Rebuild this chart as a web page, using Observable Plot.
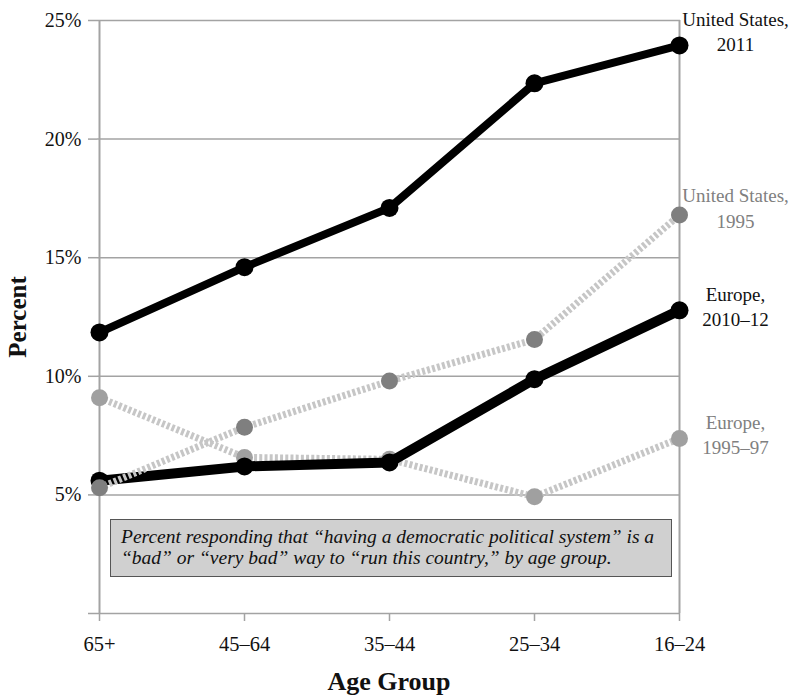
<!DOCTYPE html>
<html><head><meta charset="utf-8">
<script src="https://cdn.jsdelivr.net/npm/d3@7"></script>
<script src="https://cdn.jsdelivr.net/npm/@observablehq/plot@0.6"></script>
<style>
body{margin:0;background:#fff;}
#wrap{position:relative;width:808px;height:695px;}
#note{position:absolute;left:110px;top:519px;width:562px;height:58px;box-sizing:border-box;background:#d0d0d0;border:1.5px solid #555;font-family:"Liberation Serif",serif;font-style:italic;font-size:19.5px;line-height:21px;padding:6px 10px;color:#111;white-space:nowrap;}
</style></head><body><div id="wrap"></div>
<script>
const ageGroups = ["65+", "45–64", "35–44", "25–34", "16–24"];
const us2011 = [11.85, 14.6, 17.1, 22.35, 23.95];
const us1995 = [5.3, 7.85, 9.8, 11.55, 16.8];
const eu2010 = [5.6, 6.2, 6.37, 9.88, 12.78];
const eu1995 = [9.1, 6.58, 6.5, 4.92, 7.38];
const yTicks = [0, 5, 10, 15, 20, 25];
const seriesLabels = ["United States,\n2011", "United States,\n1995", "Europe,\n2010–12", "Europe,\n1995–97"];
const noteText = ["Percent responding that “having a democratic political system” is a", "“bad” or “very bad” way to “run this country,” by age group."];

const mk = (vals) => ageGroups.map((a, i) => ({age: a, value: vals[i]}));
const dUS11 = mk(us2011), dUS95 = mk(us1995), dEU10 = mk(eu2010), dEU95 = mk(eu1995);
const last = (d) => [d[d.length - 1]];

const gray = "#a3a3a3";
const font = "Liberation Serif";
const dotted = {stroke: "#c6c6c6", strokeWidth: 7, strokeDasharray: "3 2.2", strokeLinecap: "butt", strokeLinejoin: "miter"};

const chart = Plot.plot({
  width: 808, height: 695,
  marginLeft: 97, marginRight: 128, marginTop: 20, marginBottom: 82,
  style: {fontFamily: font, fontSize: "20px", background: "white", color: "#111"},
  x: {type: "point", domain: ageGroups, padding: 0, label: null},
  y: {domain: [0, 25], label: null},
  marks: [
    Plot.gridY(yTicks, {stroke: gray, strokeOpacity: 1, strokeWidth: 1.5}),
    Plot.ruleX([ageGroups[0], ageGroups[4]], {stroke: gray, strokeWidth: 2}),
    Plot.axisY(yTicks, {tickSize: 9, stroke: gray, strokeWidth: 1.5, tickPadding: 7, fontSize: 20,
      tickFormat: d => d === 0 ? "" : d + "%"}),
    Plot.axisX(ageGroups, {tickSize: 8, stroke: gray, strokeWidth: 1.5, tickPadding: 15, fontSize: 20.5}),
    Plot.text(["Percent"], {frameAnchor: "left", textAnchor: "middle", dx: -80, rotate: -90, fontWeight: "bold", fontSize: 25}),
    Plot.text(["Age Group"], {frameAnchor: "bottom", dy: 76, fontWeight: "bold", fontSize: 26}),
    // Europe 1995–97
    Plot.line(dEU95, {x: "age", y: "value", ...dotted}),
    Plot.dot(dEU95, {x: "age", y: "value", r: 8.5, fill: "#a0a0a0"}),
    // Europe 2010–12
    Plot.line(dEU10, {x: "age", y: "value", stroke: "black", strokeWidth: 10}),
    Plot.dot(dEU10, {x: "age", y: "value", r: 9, fill: "black"}),
    // US 1995
    Plot.line(dUS95, {x: "age", y: "value", ...dotted}),
    Plot.dot(dUS95, {x: "age", y: "value", r: 8.5, fill: "#7f7f7f"}),
    // US 2011
    Plot.line(dUS11, {x: "age", y: "value", stroke: "black", strokeWidth: 8}),
    Plot.dot(dUS11, {x: "age", y: "value", r: 9, fill: "black"}),
    // Series labels
    Plot.text(last(dUS11), {x: "age", y: "value", text: () => seriesLabels[0], dx: 56, dy: -15, fill: "#111", fontSize: 19, lineHeight: 1.35}),
    Plot.text(last(dUS95), {x: "age", y: "value", text: () => seriesLabels[1], dx: 56, dy: -8, fill: "#808080", fontSize: 19, lineHeight: 1.35}),
    Plot.text(last(dEU10), {x: "age", y: "value", text: () => seriesLabels[2], dx: 56, dy: -5, fill: "#111", fontSize: 19, lineHeight: 1.35}),
    Plot.text(last(dEU95), {x: "age", y: "value", text: () => seriesLabels[3], dx: 56, dy: -5, fill: "#808080", fontSize: 19, lineHeight: 1.35})
  ]
});
const wrap = document.getElementById("wrap");
wrap.appendChild(chart);
const note = document.createElement("div");
note.id = "note";
note.innerHTML = noteText.join("<br>");
wrap.appendChild(note);
</script></body></html>
